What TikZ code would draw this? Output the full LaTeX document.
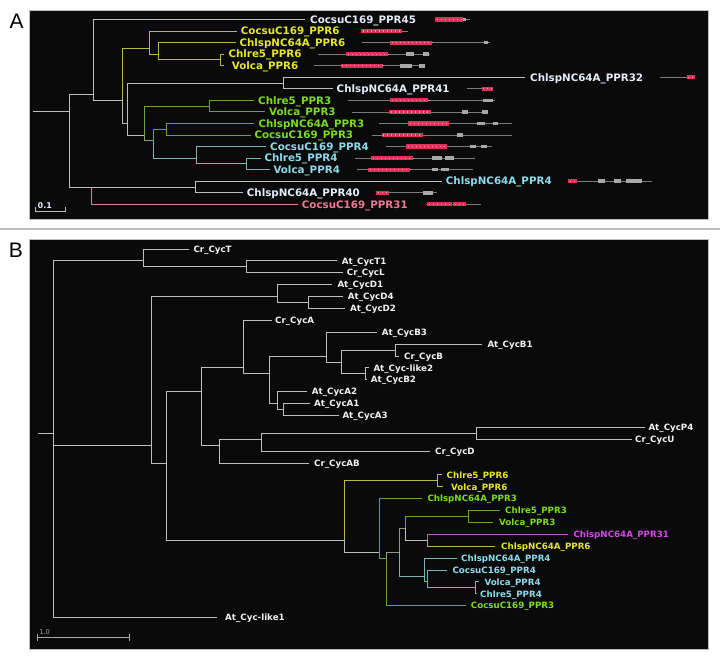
\documentclass[tikz,border=0pt]{standalone}
\usepackage{fontspec}
\setsansfont{DejaVu Sans}
\newfontfamily\arialf{Liberation Sans}
\definecolor{bg}{HTML}{0A0A0A}
\definecolor{lgray}{HTML}{BEBEBE}
\definecolor{wlab}{HTML}{E4ECFA}
\definecolor{wlabB}{HTML}{F2F2F2}
\definecolor{ylab}{HTML}{E6E62E}
\definecolor{yline}{HTML}{B8B848}
\definecolor{glab}{HTML}{7CDC20}
\definecolor{gline}{HTML}{6EA436}
\definecolor{tlab}{HTML}{8CDCEC}
\definecolor{tline}{HTML}{78B4B4}
\definecolor{plab}{HTML}{F07894}
\definecolor{pline}{HTML}{D08898}
\definecolor{mlab}{HTML}{D04CE0}
\definecolor{mline}{HTML}{B060C0}
\definecolor{ggline}{HTML}{8C9C7C}
\definecolor{redbar}{HTML}{E0305A}
\definecolor{redspot}{HTML}{F4A0B4}
\definecolor{boxgray}{HTML}{A8A8A8}
\definecolor{thinline}{HTML}{7A7A7A}
\definecolor{sepgray}{HTML}{BDBDBD}
\newcommand\tleaf[9]{%
  \coordinate (#2) at (#3,#4);
  \draw[#6] (#1) |- (#2);
  \node[#9,text=#7] (#2t) at (#5,#4) {#8};}
\newcommand\seg[4]{\draw[#1] (#2,#4) -- (#3,#4);}
\newcommand\rbar[3]{\draw[dredbar] (#1,#3) -- (#2,#3);\draw[dspot] (#1,#3) -- (#2,#3);}
\begin{document}
\begin{tikzpicture}[x=1pt,y=-1pt,
  tr/.style={line width=0.9pt},
  gl/.style={tr,draw=lgray}, yl/.style={tr,draw=yline}, grl/.style={tr,draw=gline},
  tl/.style={tr,draw=tline}, pl/.style={tr,draw=pline}, ml/.style={tr,draw=mline},
  mx/.style={tr,draw=ggline},
  labA/.style={anchor=base west, inner sep=0pt, yshift=-3.75pt, font=\sffamily\bfseries\fontsize{10.3}{12}\selectfont},
  labB/.style={anchor=base west, inner sep=0pt, yshift=-3.2pt, font=\sffamily\bfseries\fontsize{8.7}{10}\selectfont},
  dthin/.style={draw=thinline, line width=0.8pt},
  dredbar/.style={draw=redbar, line width=4.2pt},
  dspot/.style={draw=redspot, line width=1.2pt, dash pattern=on 0.9pt off 3.1pt, dash phase=-1.5pt},
  dbox/.style={draw=boxgray, line width=3.6pt},
  panel/.style={fill=bg, draw=sepgray, line width=0.6pt},
  plabel/.style={anchor=base west, inner sep=0pt, font=\arialf\fontsize{21}{24}\selectfont}]
\useasboundingbox (0,0) rectangle (720,659);
% panels
\draw[panel] (29,10) rectangle (708,219);
\draw[panel] (29,239) rectangle (708,649);
\draw[draw=sepgray, line width=1.2pt] (0,229) -- (720,229);
\node[plabel] (lblA) at (9.3,28.3) {A};
\node[plabel] (lblB) at (8.6,257.3) {B};

% ================= Panel A tree =================
\coordinate (aR0) at (33,111.9);
\coordinate (aR) at (69.7,111.9);
\coordinate (aN1) at (93.3,94.2);
\coordinate (aN2) at (122.3,100.35);
\coordinate (aN3) at (149.7,48.38);
\coordinate (aB) at (158,54.15);
\coordinate (aC) at (220.7,59.93);
\coordinate (aN4) at (127.3,123.45);
\coordinate (aP) at (283,83.03);
\coordinate (aQ) at (144.7,135);
\coordinate (aRr) at (209.7,106.13);
\coordinate (aS) at (153,140.78);
\coordinate (aT) at (166.3,129.23);
\coordinate (aU) at (196.7,158.1);
\coordinate (aV) at (246.7,163.88);
\coordinate (aM) at (195,186.98);
\coordinate (aK) at (91.7,186.98);
\draw[gl] (aR0) -- (aR);
\draw[gl] (aR) |- (aN1);
\draw[gl] (aR) |- (aM);
\draw[gl] (aN1) |- (aN2);
\draw[yl] (aN2) |- (aN3);
\draw[gl] (aN2) |- (aN4);
\draw[yl] (aN3) |- (aB);
\draw[yl] (aB) |- (aC);
\draw[gl] (aN4) |- (aP);
\draw[gl] (aN4) |- (aQ);
\draw[grl] (aQ) |- (aRr);
\draw[mx] (aQ) |- (aS);
\draw[grl] (aS) |- (aT);
\draw[tl] (aS) |- (aU);
\draw[tl] (aU) |- (aV);
\tleaf{aN1}{a1}{305}{19.5}{310}{gl}{wlab}{CocsuC169\_PPR45}{labA}
\tleaf{aN3}{a2}{236.5}{31.05}{240.7}{yl}{ylab}{CocsuC169\_PPR6}{labA}
\tleaf{aB}{a3}{235.5}{42.6}{239.3}{yl}{ylab}{ChlspNC64A\_PPR6}{labA}
\tleaf{aC}{a4}{223.7}{54.15}{228.3}{yl}{ylab}{Chlre5\_PPR6}{labA}
\tleaf{aC}{a5}{223.7}{65.7}{231.7}{yl}{ylab}{Volca\_PPR6}{labA}
\tleaf{aP}{a6}{525}{77.25}{530}{gl}{wlab}{ChlspNC64A\_PPR32}{labA}
\tleaf{aP}{a7}{333}{88.8}{336.5}{gl}{wlab}{ChlspNC64A\_PPR41}{labA}
\tleaf{aRr}{a8}{254}{100.35}{258}{grl}{glab}{Chlre5\_PPR3}{labA}
\tleaf{aRr}{a9}{265}{111.9}{269}{grl}{glab}{Volca\_PPR3}{labA}
\tleaf{aT}{a10}{254}{123.45}{258.3}{grl}{glab}{ChlspNC64A\_PPR3}{labA}
\tleaf{aT}{a11}{250.5}{135}{254.3}{grl}{glab}{CocsuC169\_PPR3}{labA}
\tleaf{aU}{a12}{266}{146.55}{270}{tl}{tlab}{CocsuC169\_PPR4}{labA}
\tleaf{aV}{a13}{260.5}{158.1}{264.3}{tl}{tlab}{Chlre5\_PPR4}{labA}
\tleaf{aV}{a14}{269.5}{169.65}{273.3}{tl}{tlab}{Volca\_PPR4}{labA}
\tleaf{aM}{a15}{441.5}{181.2}{445.7}{gl}{tlab}{ChlspNC64A\_PPR4}{labA}
\tleaf{aM}{a16}{243}{192.75}{246.7}{gl}{wlab}{ChlspNC64A\_PPR40}{labA}
\tleaf{aK}{a17}{297.5}{204.3}{301.7}{pl}{plab}{CocsuC169\_PPR31}{labA}

% domain architectures
\seg{dthin}{435}{470}{19.5}\rbar{435}{463}{19.5}\seg{dbox}{463}{466}{19.5}
\seg{dthin}{361}{408.3}{31.05}\rbar{361}{401.7}{31.05}
\seg{dthin}{361.7}{490}{42.6}\rbar{390}{432.3}{42.6}\seg{dbox}{484}{488}{42.6}
\seg{dthin}{318.3}{430}{54.15}\rbar{346}{387.7}{54.15}\seg{dbox}{406}{414.3}{54.15}\seg{dbox}{423.3}{429.3}{54.15}
\seg{dthin}{314}{425}{65.7}\rbar{340.7}{382.7}{65.7}\seg{dbox}{400}{412.3}{65.7}\seg{dbox}{419}{425}{65.7}
\seg{dthin}{660}{695}{77.25}\rbar{686.7}{695}{77.25}
\seg{dthin}{466.7}{492.7}{88.8}\rbar{481.7}{492.7}{88.8}
\seg{dthin}{348.3}{495}{100.35}\rbar{390}{427.7}{100.35}\seg{dbox}{482.7}{492.7}{100.35}
\seg{dthin}{351.7}{488.3}{111.9}\rbar{389.3}{430.7}{111.9}\seg{dbox}{462.3}{467.7}{111.9}\seg{dbox}{481.7}{487.7}{111.9}
\seg{dthin}{379.3}{512.3}{123.45}\rbar{408.3}{449.3}{123.45}\seg{dbox}{476.7}{485}{123.45}\seg{dbox}{492.7}{498.3}{123.45}
\seg{dthin}{371.7}{512.3}{135}\rbar{381.7}{422.7}{135}\seg{dbox}{456.7}{463.3}{135}
\seg{dthin}{386}{491.7}{146.55}\rbar{406}{447.3}{146.55}\seg{dbox}{470}{475.7}{146.55}\seg{dbox}{481}{487.3}{146.55}
\seg{dthin}{355}{475}{158.1}\rbar{371}{412.7}{158.1}\seg{dbox}{432.3}{442.3}{158.1}\seg{dbox}{445}{454.3}{158.1}
\seg{dthin}{357.3}{472.7}{169.65}\rbar{368.3}{410}{169.65}\seg{dbox}{432.3}{438.3}{169.65}\seg{dbox}{441}{449}{169.65}
\seg{dthin}{568.3}{652.3}{181.2}\rbar{568.3}{577.3}{181.2}\seg{dbox}{598.3}{605}{181.2}\seg{dbox}{614}{620.7}{181.2}\seg{dbox}{626}{642.3}{181.2}
\seg{dthin}{376}{436.7}{192.75}\rbar{376}{389.3}{192.75}\seg{dbox}{422.7}{432.7}{192.75}
\seg{dthin}{426}{481}{204.3}\rbar{427.3}{451.7}{204.3}\rbar{453.3}{465.7}{204.3}

% scale bar A
\coordinate (sa1) at (35,211);
\coordinate (sa2) at (65.7,211);
\draw[gl] (sa1) ++(0,-3.7) -- (sa1) -- (sa2) -- ++(0,-3.7);
\node[anchor=base west, inner sep=0pt, text=wlab, font=\sffamily\bfseries\fontsize{8}{9}\selectfont] (scA) at (37.5,208.3) {0.1};

% ================= Panel B tree =================
\coordinate (bR0) at (37.7,433.3);
\coordinate (bR) at (53.3,433.3);
\coordinate (bT) at (143.3,260.89);
\coordinate (bTL) at (246.7,266.84);
\coordinate (bN) at (151.7,445.19);
\coordinate (bD) at (277.7,296.56);
\coordinate (bD2) at (308.3,302.5);
\coordinate (bX) at (166.7,463.02);
\coordinate (bY) at (201,391.68);
\coordinate (bA) at (243.3,367.9);
\coordinate (bB) at (269.3,373.85);
\coordinate (bB1) at (326.7,356.01);
\coordinate (bB2) at (341.7,361.96);
\coordinate (bB3) at (395,350.07);
\coordinate (bB4) at (365,373.85);
\coordinate (bAA) at (277.7,403.57);
\coordinate (bAA2) at (283.3,409.52);
\coordinate (bZ) at (219,445.19);
\coordinate (bZ1) at (261.7,439.24);
\coordinate (bZ2) at (476,433.3);
\coordinate (bP0) at (344.3,540.31);
\coordinate (bP6) at (437.7,480.86);
\coordinate (bP1) at (379.3,552.2);
\coordinate (bP2) at (386,558.14);
\coordinate (bP3) at (399.3,552.2);
\coordinate (bP4) at (405,528.42);
\coordinate (bP5) at (468.3,516.53);
\coordinate (bP7) at (427.7,540.31);
\coordinate (bP8) at (424.3,575.98);
\coordinate (bP9) at (427.7,581.92);
\coordinate (bP10) at (475,587.87);
\draw[gl] (bR0) -- (bR);
\draw[gl] (bR) |- (bT);
\draw[gl] (bR) |- (bN);
\draw[gl] (bT) |- (bTL);
\draw[gl] (bN) |- (bD);
\draw[gl] (bD) |- (bD2);
\draw[gl] (bN) |- (bX);
\draw[gl] (bX) |- (bY);
\draw[gl] (bY) |- (bA);
\draw[gl] (bA) |- (bB);
\draw[gl] (bB) |- (bB1);
\draw[gl] (bB1) |- (bB2);
\draw[gl] (bB2) |- (bB3);
\draw[gl] (bB2) |- (bB4);
\draw[gl] (bB) |- (bAA);
\draw[gl] (bAA) |- (bAA2);
\draw[gl] (bY) |- (bZ);
\draw[gl] (bZ) |- (bZ1);
\draw[gl] (bZ1) |- (bZ2);
\draw[gl] (bX) |- (bP0);
\draw[yl] (bP0) |- (bP6);
\draw[gl] (bP0) |- (bP1);
\draw[grl] (bP1) |- (bP2);
\draw[mx] (bP2) |- (bP3);
\draw[mx] (bP3) |- (bP4);
\draw[tl] (bP3) |- (bP8);
\draw[grl] (bP4) |- (bP5);
\draw[gl] (bP4) |- (bP7);
\draw[tl] (bP8) |- (bP9);
\draw[tl] (bP9) |- (bP10);
\tleaf{bT}{b1}{189.3}{249}{193.3}{gl}{wlabB}{Cr\_CycT}{labB}
\tleaf{bTL}{b2}{337}{260.89}{341.7}{gl}{wlabB}{At\_CycT1}{labB}
\tleaf{bTL}{b3}{343}{272.78}{346.7}{gl}{wlabB}{Cr\_CycL}{labB}
\tleaf{bD}{b4}{332}{284.67}{337.3}{gl}{wlabB}{At\_CycD1}{labB}
\tleaf{bD2}{b5}{343}{296.56}{347.7}{gl}{wlabB}{At\_CycD4}{labB}
\tleaf{bD2}{b6}{345}{308.45}{350}{gl}{wlabB}{At\_CycD2}{labB}
\tleaf{bA}{b7}{271.5}{320.34}{275}{gl}{wlabB}{Cr\_CycA}{labB}
\tleaf{bB1}{b8}{377}{332.23}{381.7}{gl}{wlabB}{At\_CycB3}{labB}
\tleaf{bB3}{b9}{482}{344.12}{487.3}{gl}{wlabB}{At\_CycB1}{labB}
\tleaf{bB3}{b10}{399}{356.01}{404}{gl}{wlabB}{Cr\_CycB}{labB}
\tleaf{bB4}{b11}{368.5}{367.9}{373.3}{gl}{wlabB}{At\_Cyc-like2}{labB}
\tleaf{bB4}{b12}{367}{379.79}{370.7}{gl}{wlabB}{At\_CycB2}{labB}
\tleaf{bAA}{b13}{307}{391.68}{311.7}{gl}{wlabB}{At\_CycA2}{labB}
\tleaf{bAA2}{b14}{310}{403.57}{314}{gl}{wlabB}{At\_CycA1}{labB}
\tleaf{bAA2}{b15}{338.5}{415.46}{342.3}{gl}{wlabB}{At\_CycA3}{labB}
\tleaf{bZ2}{b16}{645}{427.35}{648.3}{gl}{wlabB}{At\_CycP4}{labB}
\tleaf{bZ2}{b17}{631.7}{439.24}{635}{gl}{wlabB}{Cr\_CycU}{labB}
\tleaf{bZ1}{b18}{430}{451.13}{435}{gl}{wlabB}{Cr\_CycD}{labB}
\tleaf{bZ}{b19}{309.3}{463.02}{314}{gl}{wlabB}{Cr\_CycAB}{labB}
\tleaf{bP6}{b20}{442}{474.91}{446.5}{yl}{ylab}{Chlre5\_PPR6}{labB}
\tleaf{bP6}{b21}{442.7}{486.8}{451}{yl}{ylab}{Volca\_PPR6}{labB}
\tleaf{bP1}{b22}{421.7}{498.69}{427.3}{grl}{glab}{ChlspNC64A\_PPR3}{labB}
\tleaf{bP5}{b23}{500}{510.58}{505}{grl}{glab}{Chlre5\_PPR3}{labB}
\tleaf{bP5}{b24}{493.3}{522.47}{499}{grl}{glab}{Volca\_PPR3}{labB}
\tleaf{bP7}{b25}{568.3}{534.36}{573.3}{ml}{mlab}{ChlspNC64A\_PPR31}{labB}
\tleaf{bP7}{b26}{495}{546.25}{501}{yl}{ylab}{ChlspNC64A\_PPR6}{labB}
\tleaf{bP8}{b27}{456.7}{558.14}{461}{tl}{tlab}{ChlspNC64A\_PPR4}{labB}
\tleaf{bP9}{b28}{446.7}{570.03}{452.3}{tl}{tlab}{CocsuC169\_PPR4}{labB}
\tleaf{bP10}{b29}{479}{581.92}{484.3}{tl}{tlab}{Volca\_PPR4}{labB}
\tleaf{bP10}{b30}{477}{593.81}{480}{tl}{tlab}{Chlre5\_PPR4}{labB}
\tleaf{bP2}{b31}{465.7}{605.7}{470.7}{grl}{glab}{CocsuC169\_PPR3}{labB}
\tleaf{bR}{b32}{216.7}{617.59}{225}{gl}{wlabB}{At\_Cyc-like1}{labB}

% scale bar B
\coordinate (sb1) at (37.7,637.3);
\coordinate (sb2) at (129,637.3);
\draw[draw=boxgray, line width=0.8pt] (sb1) ++(0,-3.3) -- ++(0,7) (sb1) -- (sb2) ++(0,-3.3) -- ++(0,7);
\node[anchor=base west, inner sep=0pt, text=boxgray, font=\sffamily\fontsize{6.5}{7}\selectfont] (scB) at (39.3,634.6) {1.0};
\end{tikzpicture}
\end{document}
